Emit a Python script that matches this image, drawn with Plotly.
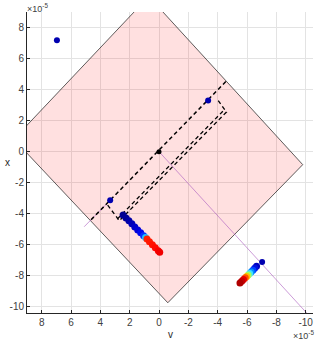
import plotly.graph_objects as go

# ---- data (units of 1e-5) ----
region_v = [9.9, 0.7, -9.8, -0.6, 9.9]
region_x = [0.8, 10.0, -0.84, -9.74, 0.8]

origin_v = [0.0]
origin_x = [0.0]

pts_v = [6.96, -3.35, 3.33, -7.03]
pts_x = [7.18, 3.29, -3.14, -7.12]

dash_main_v = [4.63, -4.56]
dash_main_x = [-4.39, 4.52]

dash_box_v = [3.5, 2.7, -4.6, -3.95]
dash_box_x = [-3.45, -4.45, 2.55, 3.4]
dash_box2_v = [2.85, -4.45]
dash_box2_x = [-4.35, 2.7]

ray1_v = [5.1, 3.33]
ray1_x = [-4.84, -3.14]
ray2_v = [0.0, -10.07]
ray2_x = [0.0, -10.4]

trajA_v = [2.45, 2.25, 2.05, 1.85, 1.65, 1.45, 1.25, 1.05, 0.92, 0.82, 0.65, 0.45, 0.25, 0.05, -0.05]
trajA_x = [-4.08, -4.28, -4.45, -4.65, -4.85, -5.05, -5.22, -5.42, -5.53, -5.63, -5.8, -6.0, -6.2, -6.38, -6.48]
trajA_c = ["#000090", "#000098", "#0000A8", "#0000B8", "#0000C8", "#0000D8", "#0008EC", "#0030FF",
           "#20C0FF", "#FF2000", "#FF1800", "#FF1000", "#FF0800", "#F80000", "#F00000"]

trajB_v = [-6.65, -6.52, -6.4, -6.28, -6.18, -6.08, -5.98, -5.88, -5.76, -5.64, -5.52]
trajB_x = [-7.38, -7.52, -7.64, -7.76, -7.86, -7.95, -8.04, -8.13, -8.24, -8.36, -8.47]
trajB_c = ["#0000C0", "#0010E0", "#0040FF", "#0090FF", "#40E0FF", "#A0FF60", "#FFC000", "#FF5000",
           "#E80000", "#C80000", "#B00000"]

tick_vals = [-10, -8, -6, -4, -2, 0, 2, 4, 6, 8]
tick_text = ["-10", "-8", "-6", "-4", "-2", "0", "2", "4", "6", "8"]

FONT = "Liberation Sans, Arial"

fig = go.Figure()

fig.add_trace(go.Scatter(x=region_v, y=region_x, mode="lines", fill="toself",
                         fillcolor="rgba(255,0,0,0.12)",
                         line=dict(color="rgba(40,40,40,0.75)", width=1)))

fig.add_trace(go.Scatter(x=ray1_v, y=ray1_x, mode="lines",
                         line=dict(color="rgba(170,90,190,0.6)", width=1)))
fig.add_trace(go.Scatter(x=ray2_v, y=ray2_x, mode="lines",
                         line=dict(color="rgba(170,90,190,0.6)", width=1)))

fig.add_trace(go.Scatter(x=dash_main_v, y=dash_main_x, mode="lines",
                         line=dict(color="black", width=1.5, dash="4px,3px")))
fig.add_trace(go.Scatter(x=dash_box_v, y=dash_box_x, mode="lines",
                         line=dict(color="black", width=1.3, dash="4px,3px")))
fig.add_trace(go.Scatter(x=dash_box2_v, y=dash_box2_x, mode="lines",
                         line=dict(color="black", width=1.3, dash="4px,3px")))

fig.add_trace(go.Scatter(x=trajA_v, y=trajA_x, mode="markers",
                         marker=dict(color=trajA_c, size=7, line=dict(width=0))))
fig.add_trace(go.Scatter(x=trajB_v, y=trajB_x, mode="markers",
                         marker=dict(color=trajB_c, size=7, line=dict(width=0))))

fig.add_trace(go.Scatter(x=pts_v, y=pts_x, mode="markers",
                         marker=dict(color="#0000B0", size=6, line=dict(width=0))))
fig.add_trace(go.Scatter(x=origin_v, y=origin_x, mode="markers",
                         marker=dict(color="black", size=5, line=dict(width=0))))

axis_common = dict(
    tickvals=tick_vals, ticktext=tick_text,
    showgrid=True, gridcolor="#e3e3e3", gridwidth=1,
    zeroline=False, showline=True, linecolor="#262626", linewidth=1,
    ticks="inside", ticklen=3, tickcolor="#262626",
    tickfont=dict(family=FONT, size=10, color="#404040"),
    mirror=False, automargin=False,
)

fig.update_layout(
    width=316, height=341,
    margin=dict(l=27, r=3, t=12, b=28, autoexpand=False),
    paper_bgcolor="white", plot_bgcolor="white",
    showlegend=False,
    xaxis=dict(range=[9, -10.5], **axis_common),
    yaxis=dict(range=[-10.4, 9], **axis_common),
    annotations=[
        dict(text="×10<sup>-5</sup>", xref="paper", yref="paper", x=0, y=1, xanchor="left",
             yanchor="bottom", showarrow=False, yshift=-4, xshift=-2,
             font=dict(family=FONT, size=9, color="#404040")),
        dict(text="×10<sup>-5</sup>", xref="paper", yref="paper", x=1, y=0, xanchor="right",
             yanchor="top", showarrow=False, yshift=-14, xshift=3,
             font=dict(family=FONT, size=9, color="#404040")),
        dict(text="v", xref="paper", yref="paper", x=0.5, y=0, xanchor="center",
             yanchor="top", showarrow=False, yshift=-14,
             font=dict(family=FONT, size=10, color="#262626")),
        dict(text="x", xref="paper", yref="paper", x=0, y=0.5, xanchor="center",
             yanchor="middle", showarrow=False, xshift=-20,
             font=dict(family=FONT, size=10, color="#262626")),
    ],
)

fig.write_html("out.html", config={"displayModeBar": False},
               post_script="document.body.style.margin='0';document.body.style.padding='0';")
